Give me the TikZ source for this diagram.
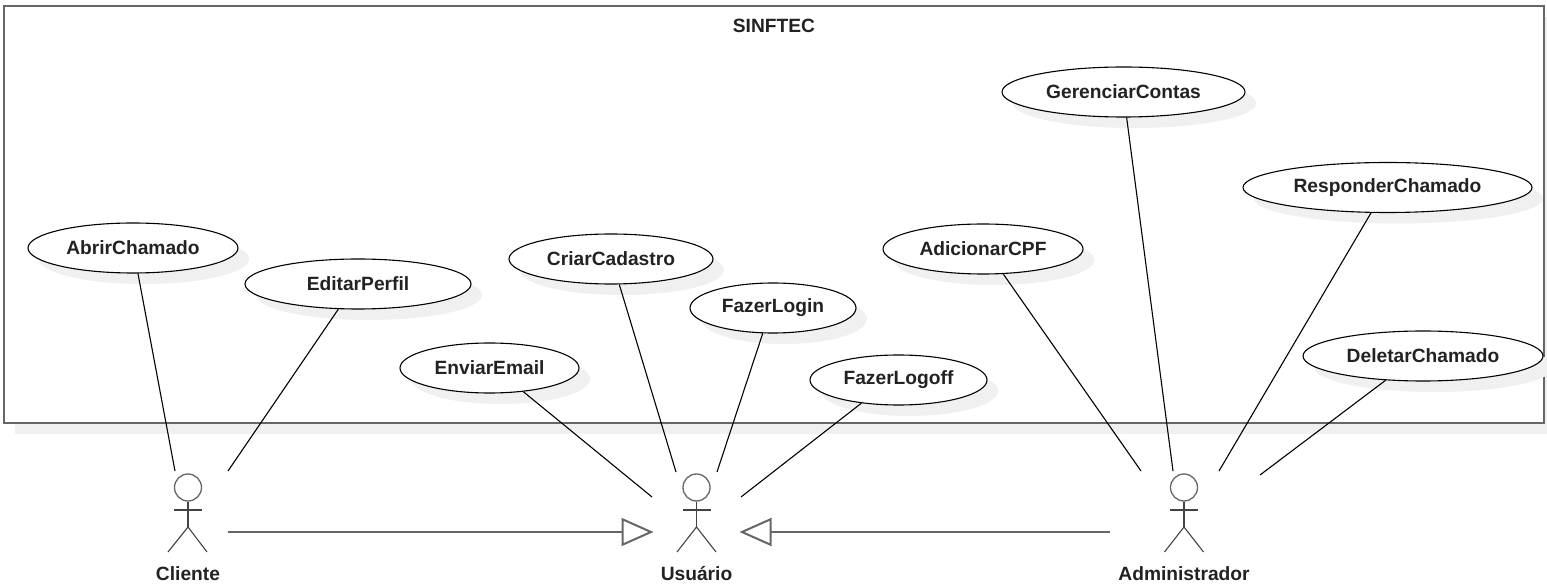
\documentclass[tikz,border=0pt]{standalone}
\usepackage{fontspec}
\setmainfont{Liberation Sans}
\usetikzlibrary{arrows.meta,shapes.geometric,shadows}
\definecolor{shadowgray}{HTML}{F0F0F0}
\definecolor{framegray}{HTML}{666666}
\definecolor{textgray}{HTML}{222222}
\tikzset{
    usecase/.style={ellipse, draw=black, line width=0.55pt, fill=white, minimum height=25pt, inner sep=0pt, text=textgray, font=\bfseries\fontsize{9.6}{11}\selectfont, drop shadow={shadow xshift=5.5pt, shadow yshift=-5.5pt, fill=shadowgray, opacity=1}},
    system/.style={draw=framegray, line width=1pt, fill=white, inner sep=0pt, drop shadow={shadow xshift=5.5pt, shadow yshift=-5.5pt, fill=shadowgray, opacity=1}},
    head/.style={circle, draw=framegray, line width=0.65pt, minimum size=13.5pt, inner sep=0pt},
    limb/.style={draw=textgray!85, line width=0.55pt},
    label/.style={text=textgray, font=\bfseries\fontsize{9.6}{11}\selectfont},
    assoc/.style={draw=black, line width=0.55pt},
    general/.style={draw=framegray, line width=1pt, -{Triangle[open, fill=white, length=16pt, width=14pt]}}
}
\begin{document}
\begin{tikzpicture}[x=0.5pt,y=-0.5pt]
    \useasboundingbox (0,0) rectangle (1547,587);
    % System Frame
    \node[system, minimum width=770pt, minimum height=208.5pt] (sinftec) at (774,214.5) {};
    \node[label] (sinftec-title) at (774,26) {SINFTEC};

    % Use Cases
    \node[usecase, minimum width=105pt] (abrir) at (133,248) {AbrirChamado};
    \node[usecase, minimum width=113pt] (editar) at (358,284) {EditarPerfil};
    \node[usecase, minimum width=102pt] (criar) at (611,259) {CriarCadastro};
    \node[usecase, minimum width=83pt] (login) at (773,308) {FazerLogin};
    \node[usecase, minimum width=89.5pt] (enviar) at (489.5,368) {EnviarEmail};
    \node[usecase, minimum width=88.5pt] (logoff) at (898.5,380) {FazerLogoff};
    \node[usecase, minimum width=100pt] (adicionar) at (983,249) {AdicionarCPF};
    \node[usecase, minimum width=121.5pt] (gerenciar) at (1123.5,92) {GerenciarContas};
    \node[usecase, minimum width=144.5pt] (responder) at (1387.5,187.5) {ResponderChamado};
    \node[usecase, minimum width=120pt] (deletar) at (1423,356) {DeletarChamado};

    % Cliente
    \node[head] (cliente-head) at (188,487.5) {};
    \draw[limb] (cliente-head.south) -- (188,527) coordinate (cliente-hip);
    \draw[limb] (174,510) -- (202,510);
    \draw[limb] (168,552) -- (cliente-hip) -- (207,552);
    \node[label] (cliente) at (188,574) {Cliente};

    % Usuario
    \node[head] (usuario-head) at (696.5,487.5) {};
    \draw[limb] (usuario-head.south) -- (696.5,527) coordinate (usuario-hip);
    \draw[limb] (682.5,510) -- (710.5,510);
    \draw[limb] (677,552) -- (usuario-hip) -- (716,552);
    \node[label] (usuario) at (696.5,574) {Usuário};

    % Administrador
    \node[head] (admin-head) at (1184,487.5) {};
    \draw[limb] (admin-head.south) -- (1184,527) coordinate (admin-hip);
    \draw[limb] (1170,510) -- (1198,510);
    \draw[limb] (1164.5,552) -- (admin-hip) -- (1203.5,552);
    \node[label] (admin) at (1184,574) {Administrador};

    % Free Ends
    \coordinate (to-abrir) at (175,471);
    \coordinate (to-editar) at (228,471);
    \coordinate (to-enviar) at (652,497);
    \coordinate (to-criar) at (676,472);
    \coordinate (to-login) at (717,472);
    \coordinate (to-logoff) at (741,497);
    \coordinate (to-adicionar) at (1141,471);
    \coordinate (to-gerenciar) at (1173,471);
    \coordinate (to-responder) at (1219,471);
    \coordinate (to-deletar) at (1260,475);
    \coordinate (cliente-out) at (228,532);
    \coordinate (usuario-left) at (653.5,532);
    \coordinate (admin-out) at (1110,532);
    \coordinate (usuario-right) at (739.5,532);

    % Associations
    \draw[assoc] (abrir.281) -- (to-abrir);
    \draw[assoc] (editar.232) -- (to-editar);
    \draw[assoc] (enviar.325) -- (to-enviar);
    \draw[assoc] (criar.288) -- (to-criar);
    \draw[assoc] (login.248) -- (to-login);
    \draw[assoc] (logoff.212) -- (to-logoff);
    \draw[assoc] (adicionar.309) -- (to-adicionar);
    \draw[assoc] (gerenciar.277) -- (to-gerenciar);
    \draw[assoc] (responder.237) -- (to-responder);
    \draw[assoc] (deletar.213) -- (to-deletar);

    % Generalizations
    \draw[general] (cliente-out) -- (usuario-left);
    \draw[general] (admin-out) -- (usuario-right);
\end{tikzpicture}
\end{document}
